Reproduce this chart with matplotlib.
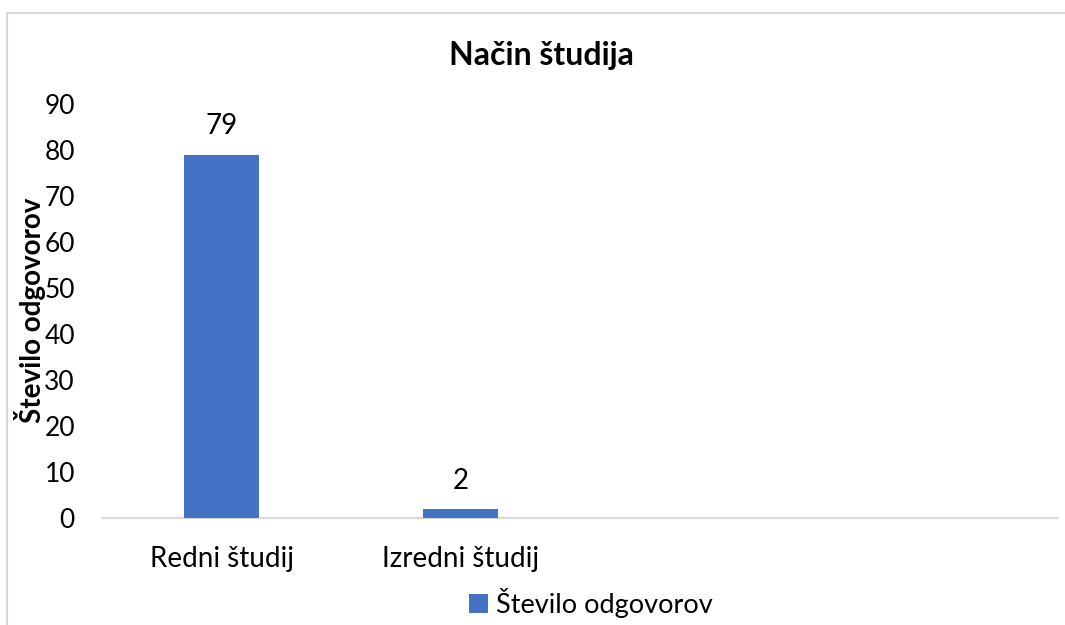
import matplotlib.pyplot as plt
from matplotlib.patches import Rectangle

# data
categories = ["Redni študij", "Izredni študij", "", ""]
values = [79, 2, None, None]
series_name = "Število odgovorov"
title = "Način študija"
yticks = [0, 10, 20, 30, 40, 50, 60, 70, 80, 90]

bar_color = "#4472C4"
font = ["Lato", "DejaVu Sans"]
plt.rcParams['font.family'] = font

fig = plt.figure(figsize=(10.65, 6.25), dpi=100)
ax = fig.add_axes([102 / 1065, 1 - 518 / 625, (1058 - 102) / 1065, (518 - 104) / 625])

# outer chart frame (light grey, runs off right/bottom)
fig.patches.append(Rectangle((7 / 1065, -0.1), 1.2, 1 - 13 / 625 + 0.1,
                             transform=fig.transFigure, fill=False,
                             edgecolor="#d9d9d9", linewidth=1.5))

xs = [i for i, v in enumerate(values) if v is not None]
vals = [v for v in values if v is not None]
bars = ax.bar(xs, vals, width=0.314, color=bar_color, label=series_name, zorder=3)
for x, v in zip(xs, vals):
    ax.annotate(str(v), (x, v), xytext=(0, 11), textcoords="offset points",
                ha="center", va="bottom", fontsize=20, color="#000000")

ax.set_xlim(-0.5, len(categories) - 0.5)
ax.set_ylim(0, 90)
ax.set_yticks(yticks)
ax.set_xticks(range(len(categories)))
ax.set_xticklabels(categories, fontsize=20)
ax.tick_params(axis="both", length=0, colors="#000000")
ax.tick_params(axis="y", pad=19.5, labelsize=19)
ax.tick_params(axis="x", pad=20)
for s in ["top", "right", "left"]:
    ax.spines[s].set_visible(False)
ax.spines["bottom"].set_color("#d9d9d9")
ax.spines["bottom"].set_linewidth(1.5)

fig.text(30 / 1065, 1 - 310 / 625, series_name, rotation=90, ha="center", va="center",
         fontsize=20, fontweight="bold")
fig.text(541 / 1065, 1 - 56 / 625, title, ha="center", va="center",
         fontsize=23, fontweight="bold")

fig.legend(handles=[bars], labels=[series_name], loc="center",
           bbox_to_anchor=(591 / 1065, 1 - 603 / 625), frameon=False,
           fontsize=19.5, handlelength=0.7, handleheight=0.7, handletextpad=0.3)

fig.savefig("out.png", dpi=100, facecolor="white")
